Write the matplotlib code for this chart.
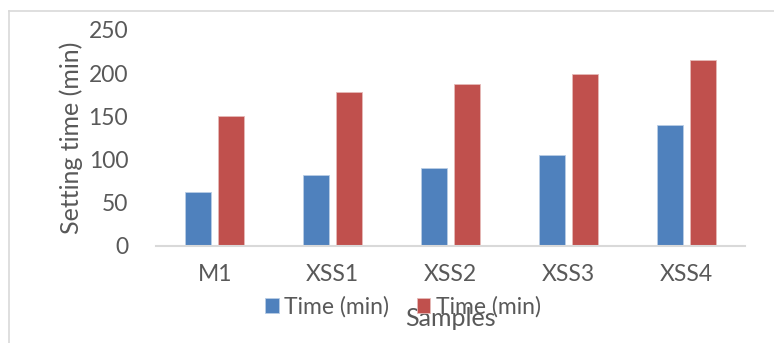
import numpy as np
import matplotlib.pyplot as plt
from matplotlib.lines import Line2D

samples = ["M1", "XSS1", "XSS2", "XSS3", "XSS4"]
initial_time = [62, 82, 90, 105, 140]
final_time = [151, 178, 187, 199, 215]
series_labels = ["Time (min)", "Time (min)"]
yticks = [0, 50, 100, 150, 200, 250]

W, H = 774, 343
plt.rcParams['font.family'] = ['Lato', 'DejaVu Sans']
grey = "#595959"

fig = plt.figure(figsize=(W / 100, H / 100), dpi=100)
# plot area in pixel terms: x 156..745, y 30..246
ax = fig.add_axes([156 / W, 1 - 246 / H, (745 - 156) / W, 216 / H])

x = np.arange(len(samples))
bw = 0.22
gap = 0.06
off = (bw + gap) / 2
b1 = ax.bar(x - off, initial_time, bw, color="#4f81bd", edgecolor="#b9cde5",
            linewidth=0.6, label=series_labels[0])
b2 = ax.bar(x + off, final_time, bw, color="#c0504d", edgecolor="#e6b9b8",
            linewidth=0.6, label=series_labels[1])

ax.set_xlim(-0.5, len(samples) - 0.5)
ax.set_ylim(0, 250)
ax.set_yticks(yticks)
ax.set_xticks(x)
ax.set_xticklabels(samples)
ax.tick_params(axis="both", length=0, labelsize=16.5, colors=grey)
ax.tick_params(axis="x", pad=13)
ax.tick_params(axis="y", pad=20)
for s in ["top", "right", "left"]:
    ax.spines[s].set_visible(False)
ax.spines["bottom"].set_color("#d9d9d9")
ax.spines["bottom"].set_linewidth(1.5)

ax.set_ylabel("Setting time (min)", fontsize=18, color=grey, labelpad=4)
fig.text(450 / W, 1 - 318 / H, "Samples", fontsize=18, color=grey,
         ha="center", va="center")

fig.legend(handles=[b1, b2], labels=series_labels, loc="center",
           bbox_to_anchor=(403 / W, 1 - 307 / H), ncol=2, frameon=False,
           fontsize=16.5, labelcolor=grey, handlelength=0.6, handleheight=0.6,
           handletextpad=0.25, columnspacing=1.2, borderpad=0)

# outer chart border (only top and left edges visible)
fig.add_artist(Line2D([8.5 / W, 1], [1 - 10.5 / H, 1 - 10.5 / H],
                      transform=fig.transFigure, color="#d9d9d9", lw=1.2))
fig.add_artist(Line2D([8.5 / W, 8.5 / W], [0, 1 - 10.5 / H],
                      transform=fig.transFigure, color="#d9d9d9", lw=1.2))

fig.savefig("out.png", dpi=100, facecolor="white")
